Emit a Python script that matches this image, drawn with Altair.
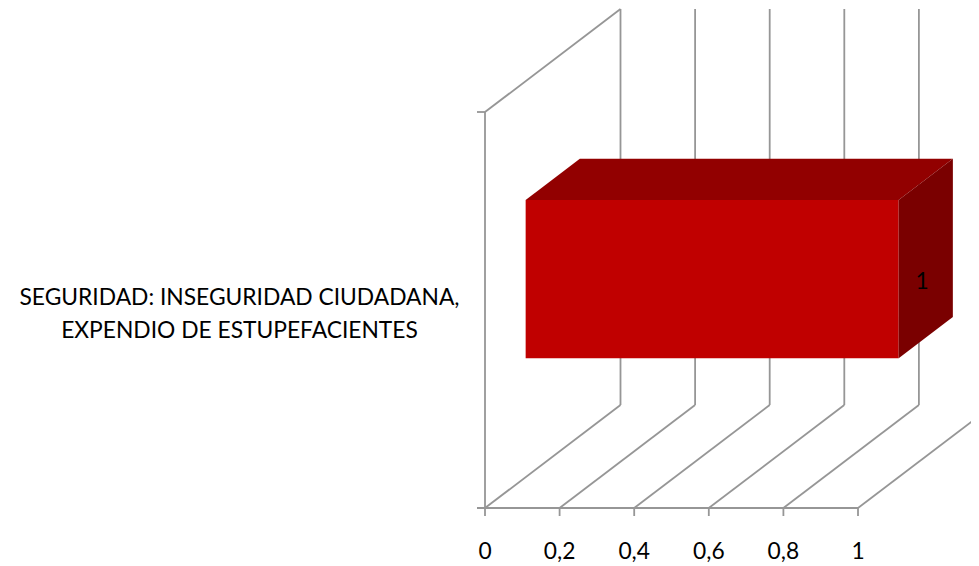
import altair as alt
import pandas as pd

categories = ["SEGURIDAD: INSEGURIDAD CIUDADANA,", "EXPENDIO DE ESTUPEFACIENTES"]
bar_value = [1]
value_ticks = [0, 0.2, 0.4, 0.6, 0.8, 1]
tick_labels = ["0", "0,2", "0,4", "0,6", "0,8", "1"]

W, H = 963, 558
PX_X, PX_H = 373.0, 396.0      # pixels per axis unit
X0, Y0 = 477.0, 500.0          # origin of the front floor corner, in plot pixels
DX, DH = 135.5 / PX_X, 103.0 / PX_H  # oblique shift for the full depth
GAP_LO, GAP_HI = 0.3, 0.7      # bar's extent in depth and in height


def px(v, d=0.0):
    return v + d * DX


def ph(h, d=0.0):
    return h + d * DH


x_scale = alt.Scale(domain=[-X0 / PX_X, (W - X0) / PX_X], range=[0, W], nice=False, zero=False)
y_scale = alt.Scale(domain=[(Y0 - H) / PX_H, Y0 / PX_H], range=[H, 0], nice=False, zero=False)
X = lambda f: alt.X(f, type="quantitative", scale=x_scale, axis=None)
Y = lambda f: alt.Y(f, type="quantitative", scale=y_scale, axis=None)

segs = []
for v in value_ticks:
    segs.append(dict(x=px(v), y=ph(0), x2=px(v, 1), y2=ph(0, 1), kind="grid"))
    if v < 1:
        segs.append(dict(x=px(v, 1), y=ph(0, 1), x2=px(v, 1), y2=ph(1, 1), kind="grid"))
    segs.append(dict(x=px(v), y=ph(0), x2=px(v), y2=ph(0) - 8 / PX_H, kind="axis"))
segs.append(dict(x=px(0), y=ph(0), x2=px(0), y2=ph(1), kind="axis"))
segs.append(dict(x=px(0), y=ph(1), x2=px(0, 1), y2=ph(1, 1), kind="grid"))
segs.append(dict(x=px(0) - 8 / PX_X, y=ph(1), x2=px(0), y2=ph(1), kind="axis"))
segs.append(dict(x=px(0) - 8 / PX_X, y=ph(0), x2=px(1), y2=ph(0), kind="axis"))
segs = pd.DataFrame(segs)

rules = alt.Chart(segs).mark_rule(color="#969696", strokeWidth=1.8, clip=True).encode(
    x=X("x"), y=Y("y"), x2="x2", y2="y2"
)

v = bar_value[0]
front = pd.DataFrame([dict(x=px(0, GAP_LO), x2=px(v, GAP_LO), y=ph(GAP_LO, GAP_LO), y2=ph(GAP_HI, GAP_LO))])
top = pd.DataFrame([
    dict(y=ph(GAP_HI, GAP_LO), x=px(0, GAP_LO), x2=px(v, GAP_LO)),
    dict(y=ph(GAP_HI, GAP_HI), x=px(0, GAP_HI), x2=px(v, GAP_HI)),
])
side = pd.DataFrame([
    dict(x=px(v, GAP_LO), y=ph(GAP_LO, GAP_LO), y2=ph(GAP_HI, GAP_LO)),
    dict(x=px(v, GAP_HI), y=ph(GAP_LO, GAP_HI), y2=ph(GAP_HI, GAP_HI)),
])

front_m = alt.Chart(front).mark_rect(color="#C00000").encode(x=X("x"), x2="x2", y=Y("y"), y2="y2")
top_m = alt.Chart(top).mark_area(color="#920000", orient="horizontal").encode(x=X("x"), x2="x2", y=Y("y"))
side_m = alt.Chart(side).mark_area(color="#7A0000", orient="vertical").encode(x=X("x"), y=Y("y"), y2="y2")

FONT = "Lato"
FS = 22.8
tick_df = pd.DataFrame(dict(v=value_ticks, label=tick_labels, y=[ph(0) - 44 / PX_H] * len(value_ticks)))
tick_text = alt.Chart(tick_df).mark_text(font=FONT, fontSize=FS, color="#000000", baseline="middle").encode(
    x=X("v"), y=Y("y"), text="label:N"
)

cat_df = pd.DataFrame(dict(
    label=categories,
    x=[(239.5 - 8 - X0) / PX_X] * 2,
    y=[(Y0 - (298 - 8)) / PX_H, (Y0 - (331 - 8)) / PX_H],
))
cat_text = alt.Chart(cat_df).mark_text(font=FONT, fontSize=FS, color="#000000", baseline="middle").encode(
    x=X("x"), y=Y("y"), text="label:N"
)

val_df = pd.DataFrame(dict(
    label=[str(b) for b in bar_value],
    x=[(922 - 8 - X0) / PX_X],
    y=[(Y0 - (282 - 8)) / PX_H],
))
val_text = alt.Chart(val_df).mark_text(font=FONT, fontSize=FS, color="#000000", baseline="middle").encode(
    x=X("x"), y=Y("y"), text="label:N"
)

chart = alt.layer(rules, front_m, top_m, side_m, tick_text, cat_text, val_text).properties(
    width=W, height=H, padding=0, autosize=alt.AutoSizeParams(type="none"), background="#FFFFFF"
).configure_view(stroke=None)

chart.save("out.html", embed_options={"renderer": "svg", "actions": False})
